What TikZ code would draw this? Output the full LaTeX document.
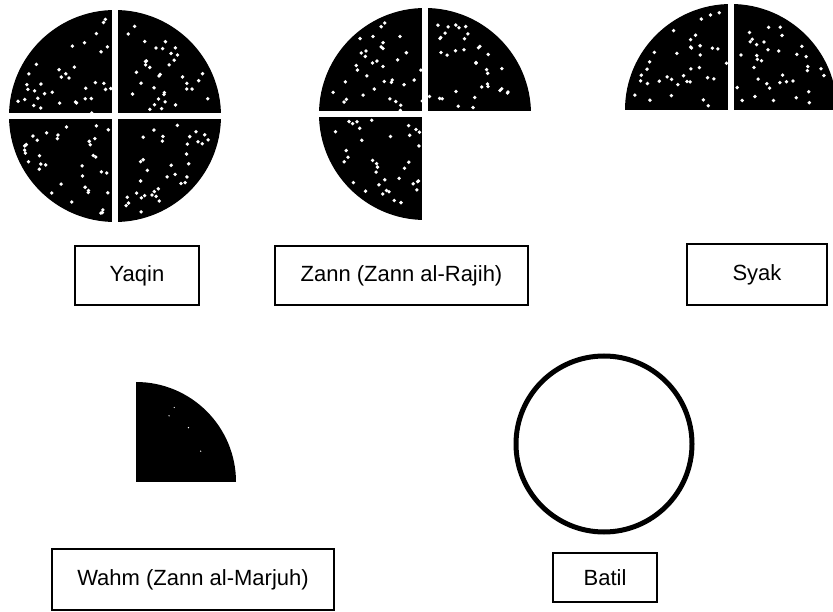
\documentclass[tikz,border=0pt]{standalone}
\usepackage{fontspec}
\setmainfont{Liberation Sans}
\newcommand{\dotquad}[4]{%
  \fill[black] (#1,#2) -- ++(#3:106pt) arc[start angle=#3, delta angle=90, radius=106pt] -- cycle;
  \pgfmathsetseed{#4}%
  \foreach \k in {1,...,36}{%
    \pgfmathsetmacro\rr{10+90*sqrt(rnd)}%
    \pgfmathsetmacro\aa{#3+5+80*rnd}%
    \fill[white] ([shift={(\aa:\rr pt)}]#1,#2) circle (1.9pt);
  }}
\tikzset{
  lbl/.style={draw=black, line width=1.4pt, rectangle, inner sep=0pt, font=\fontsize{22}{26}\selectfont},
  gap/.style={white, line width=6pt},
}
\begin{document}
\begin{tikzpicture}[x=1pt,y=1pt]
\useasboundingbox (0,0) rectangle (833,611);
\clip (0,0) rectangle (833,611);
% Yaqin
\dotquad{115}{495}{0}{11}
\dotquad{115}{495}{90}{12}
\dotquad{115}{495}{180}{13}
\dotquad{115}{495}{270}{14}
\draw[gap] (115,385) -- (115,605);
\draw[gap] (5,495) -- (225,495);
% Zann
\dotquad{425}{497}{0}{21}
\dotquad{425}{497}{90}{22}
\dotquad{425}{497}{180}{23}
\draw[gap] (425,387) -- (425,607);
\draw[gap] (315,497) -- (535,497);
% Syak
\dotquad{731}{501}{0}{31}
\dotquad{731}{501}{90}{32}
\draw[gap] (731,498) -- (731,611);
% Wahm
\fill[black] (136,129) -- ++(0:100pt) arc[start angle=0, delta angle=90, radius=100pt] -- cycle;
\pgfmathsetseed{41}
\foreach \k in {1,...,4}{\pgfmathsetmacro\rr{20+70*sqrt(rnd)}\pgfmathsetmacro\aa{10+70*rnd}\fill[white] ([shift={(\aa:\rr pt)}]136,129) circle (0.7pt);}
% Batil
\draw[line width=5pt] (604,167) circle (88pt);
% labels
\node[lbl, minimum width=124pt, minimum height=59pt] (yaqin) at (137,335.5) {Yaqin};
\node[lbl, minimum width=253pt, minimum height=59pt] (zann) at (401.5,335.5) {Zann (Zann al-Rajih)};
\node[lbl, minimum width=140pt, minimum height=61pt] (syak) at (757,336.5) {Syak};
\node[lbl, minimum width=282pt, minimum height=61pt] (wahm) at (193,31.5) {Wahm (Zann al-Marjuh)};
\node[lbl, minimum width=104pt, minimum height=49pt] (batil) at (605,33.5) {Batil};
\end{tikzpicture}
\end{document}
